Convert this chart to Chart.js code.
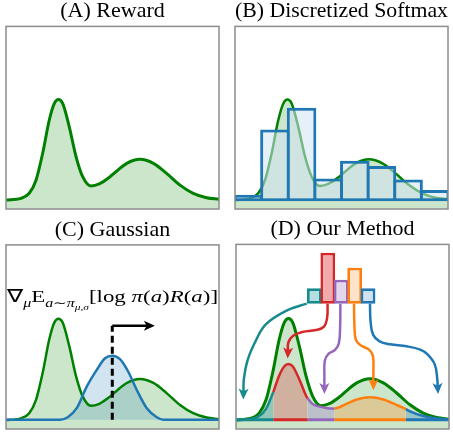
<!DOCTYPE html>
<html>
<head>
<meta charset="utf-8">
<script src="https://cdn.jsdelivr.net/npm/chart.js@4.4.1/dist/chart.umd.min.js"></script>
<style>
  html, body { margin: 0; padding: 0; background: #fff; }
  #wrap { position: relative; width: 453px; height: 434px; }
  canvas { position: absolute; }
</style>
</head>
<body>
<div id="wrap">
  <canvas id="cA" width="226" height="217" style="left:0;top:0"></canvas>
  <canvas id="cB" width="227" height="217" style="left:226px;top:0"></canvas>
  <canvas id="cC" width="226" height="217" style="left:0;top:217px"></canvas>
  <canvas id="cD" width="227" height="217" style="left:226px;top:217px"></canvas>
</div>
<script>
// ====== DATA (x and y are 0..100 of each panel's frame) ======
const rewardX = [0, 7.0, 10.9, 14.1, 17.2, 20.3, 22.7, 24.6, 26.6, 29.7, 32.9, 36.0, 39.9, 43.8, 48.5, 51.6, 56.7, 62.9, 69.2, 75.4, 81.7, 87.9, 94.2, 100];
const rewardY = [4.9, 5.8, 8.6, 15.8, 30.4, 48.6, 57.8, 59.9, 57.8, 45.0, 28.6, 17.7, 12.6, 13.7, 17.3, 20.4, 25.0, 27.2, 25.0, 19.5, 13.1, 8.6, 6.2, 5.3];

// (B) discretized softmax bins
const binCenters = [6.25, 18.75, 31.25, 43.75, 56.25, 68.75, 81.25, 93.75];
const binTops = [7.8, 43.6, 55.5, 16.7, 26.4, 23.6, 16.2, 10.4];
const binBase = 4.2;

// (C) gaussian policy
const gaussX = [0, 25.4, 29.0, 33.2, 37.9, 42.6, 46.5, 49.9, 53.5, 57.4, 61.4, 66.1, 70.8, 73.9, 100];
const gaussY = [5.0, 5.0, 6.4, 11.3, 23.0, 32.1, 38.4, 39.8, 37.9, 31.1, 21.2, 11.3, 6.4, 5.0, 5.0];
const gaussMean = 49.9;
const gradArrow = [[49.9, 56.1], [66.8, 56.1]];
const gradLabel = '∇μ E a∼π μ,σ [log π(a) R(a)]';

// (D) our method: bins at top, colored segments and component curves
const methodCenters = [36.8, 43.1, 49.4, 55.7, 62.0];
const methodTops = [76.2, 95.5, 80.9, 87.4, 76.2];
const methodBase = 67.8;
const segEdges = [0, 17.5, 33.6, 46.2, 79.7, 100];
const tealX = [0, 7.0, 10.9, 14.1, 17.5];
const tealY = [5.0, 5.4, 7.0, 10.9, 19.9];
const redX = [17.5, 20.3, 22.7, 24.6, 26.6, 29.7, 32.9, 33.6];
const redY = [19.9, 29.0, 34.0, 35.2, 34.0, 27.0, 18.0, 16.6];
const purpleX = [33.6, 36.0, 39.9, 43.0, 46.2];
const purpleY = [16.6, 13.5, 12.0, 11.3, 11.0];
const orangeX = [46.2, 48.5, 51.6, 56.7, 62.9, 69.2, 75.4, 79.7];
const orangeY = [11.0, 11.8, 13.5, 16.0, 17.2, 16.0, 13.0, 10.8];
const blueX = [79.7, 81.7, 87.9, 94.2, 100];
const blueY = [10.8, 9.5, 7.0, 5.7, 5.2];
const arrowTeal = [[33.2, 67.9], [23.5, 64.0], [14.1, 56.8], [9.4, 48.1], [5.5, 37.5], [3.7, 27.0], [3.5, 19.5]];
const arrowRed = [[43.0, 67.9], [42.8, 60.5], [41.3, 55.5], [37.5, 53.6], [31.3, 52.6], [27.0, 50.6], [24.6, 47.0], [24.4, 41.8]];
const arrowPurple = [[49.0, 67.9], [48.9, 56.0], [48.3, 46.5], [46.5, 42.8], [43.5, 40.8], [41.7, 37.0], [41.5, 28.0], [41.5, 22.5]];
const arrowOrange = [[55.4, 67.9], [55.6, 56.0], [56.3, 48.3], [58.7, 45.2], [62.5, 43.0], [64.3, 39.5], [64.5, 30.0], [64.5, 24.5]];
const arrowBlue = [[62.9, 67.9], [63.2, 58.0], [64.4, 51.0], [67.4, 47.5], [72.3, 45.9], [80.1, 44.8], [86.5, 43.0], [89.8, 40.5], [93.3, 35.0], [94.5, 27.0], [94.7, 22.5]];

// ====== STYLE ======
const SERIF = "'Liberation Serif', 'Times New Roman', serif";
const GREEN = '#008000', GREEN_FILL = 'rgba(0,128,0,0.2)';
const BLUE = '#1f77b4', RED = '#d62728', PURPLE = '#9467bd', ORANGE = '#ff7f0e', TEAL = '#168a8d';

// ====== HELPERS ======
const pts = (xs, ys) => xs.map((x, i) => ({ x, y: ys[i] }));
const pairs = arr => arr.map(([x, y]) => ({ x, y }));

const framePlugin = {
  id: 'frame',
  afterDraw(chart) {
    const { ctx, chartArea: a } = chart;
    ctx.save();
    ctx.strokeStyle = '#8c8c8c';
    ctx.lineWidth = 1.5;
    ctx.strokeRect(a.left, a.top, a.right - a.left, a.bottom - a.top);
    ctx.restore();
  }
};

const arrowPlugin = {
  id: 'arrowHeads',
  afterDatasetsDraw(chart) {
    const ctx = chart.ctx;
    chart.data.datasets.forEach((ds, i) => {
      if (!ds.arrowHead) return;
      const p = chart.getDatasetMeta(i).data;
      const a = p[p.length - 2], b = p[p.length - 1];
      const ang = Math.atan2(b.y - a.y, b.x - a.x);
      const L = ds.arrowHead.len, W = ds.arrowHead.width;
      ctx.save();
      ctx.translate(b.x, b.y);
      ctx.rotate(ang);
      ctx.beginPath();
      ctx.moveTo(L * 0.6, 0);
      ctx.lineTo(-L * 0.4, -W / 2);
      ctx.lineTo(-L * 0.15, 0);
      ctx.lineTo(-L * 0.4, W / 2);
      ctx.closePath();
      ctx.fillStyle = ds.borderColor;
      ctx.fill();
      ctx.restore();
    });
  }
};

// draws the gradient formula as runs of text (sub/superscripts)
const mathPlugin = {
  id: 'mathLabel',
  afterDatasetsDraw(chart, args, opts) {
    if (!opts.runs) return;
    const { ctx, scales: { x, y } } = chart;
    const font = r => `${r.italic ? 'italic ' : ''}${(opts.size * (r.scale || 1)).toFixed(2)}px ${SERIF}`;
    ctx.save();
    let total = 0;
    opts.runs.forEach(r => { ctx.font = font(r); total += ctx.measureText(r.text).width; });
    const sx = opts.width / total;
    ctx.translate(x.getPixelForValue(opts.x) - opts.width / 2, y.getPixelForValue(opts.y));
    ctx.scale(sx, 1);
    ctx.fillStyle = '#000';
    ctx.textBaseline = 'alphabetic';
    let cx = 0;
    opts.runs.forEach(r => {
      ctx.font = font(r);
      ctx.fillText(r.text, cx, (r.dy || 0) * opts.size);
      cx += ctx.measureText(r.text).width;
    });
    ctx.restore();
  }
};

Chart.register(framePlugin, arrowPlugin, mathPlugin);

function baseOptions(title, pad) {
  return {
    responsive: false,
    animation: false,
    events: [],
    layout: { padding: pad },
    elements: { point: { radius: 0 }, line: { borderWidth: 2.5 } },
    scales: {
      x: { type: 'linear', min: 0, max: 100, display: false, offset: false, ticks: { stepSize: 100 } },
      y: { type: 'linear', min: 0, max: 100, display: false, ticks: { stepSize: 100 } }
    },
    plugins: {
      legend: { display: false },
      tooltip: { enabled: false },
      filler: { drawTime: 'beforeDatasetsDraw' },
      title: {
        display: true, text: title, color: '#000',
        font: { family: SERIF, size: 22, weight: 'normal', lineHeight: 1.2 },
        padding: { top: -1.5, bottom: 1.5 }
      }
    }
  };
}

function rewardDataset(width, order) {
  return {
    type: 'line', data: pts(rewardX, rewardY), borderColor: GREEN, backgroundColor: GREEN_FILL,
    fill: 'origin', borderWidth: width, cubicInterpolationMode: 'monotone', order
  };
}

function curveDataset(xs, ys, color, fillColor, order) {
  return {
    type: 'line', data: pts(xs, ys), borderColor: color, backgroundColor: fillColor,
    fill: { value: 5 }, borderWidth: 2.5, cubicInterpolationMode: 'monotone', order
  };
}

function arrowDataset(path, color, order) {
  return {
    type: 'line', data: pairs(path), borderColor: color, borderWidth: 2.5,
    tension: 0.4, fill: false, arrowHead: { len: 11, width: 10 }, order
  };
}

// ====== (A) REWARD ======
new Chart(document.getElementById('cA'), {
  type: 'line',
  data: { datasets: [rewardDataset(3, 1)] },
  options: baseOptions('(A) Reward', { left: 6, right: 7, top: 0, bottom: 8 })
});

// ====== (B) DISCRETIZED SOFTMAX ======
new Chart(document.getElementById('cB'), {
  type: 'line',
  data: {
    datasets: [
      {
        type: 'bar', order: 0,
        data: binCenters.map((x, i) => ({ x, y: [binBase, binTops[i]] })),
        backgroundColor: 'rgba(210,228,243,0.55)', borderColor: BLUE, borderWidth: 3,
        borderSkipped: false, barPercentage: 1.11, categoryPercentage: 1
      },
      rewardDataset(2.5, 1)
    ]
  },
  options: baseOptions('(B) Discretized Softmax', { left: 9, right: 5, top: 0, bottom: 8 })
});

// ====== (C) GAUSSIAN ======
const optC = baseOptions('(C) Gaussian', { left: 6, right: 7, top: 1.5, bottom: 5 });
optC.plugins.mathLabel = {
  x: 50, y: 69, size: 17, width: 211,
  runs: [
    { text: '∇', scale: 1.05 },
    { text: 'μ', scale: 0.7, italic: true, dy: 0.28 },
    { text: 'E' },
    { text: 'a', scale: 0.7, italic: true, dy: 0.28 },
    { text: '∼', scale: 0.7, dy: 0.28 },
    { text: 'π', scale: 0.7, italic: true, dy: 0.28 },
    { text: 'μ,σ', scale: 0.5, italic: true, dy: 0.45 },
    { text: '[log ' },
    { text: 'π', italic: true },
    { text: '(' },
    { text: 'a', italic: true },
    { text: ')' },
    { text: 'R', italic: true },
    { text: '(' },
    { text: 'a', italic: true },
    { text: ')]' }
  ]
};
new Chart(document.getElementById('cC'), {
  type: 'line',
  data: {
    datasets: [
      arrowDataset(gradArrow, '#000', 0),
      {
        type: 'line', order: 1, data: [{ x: gaussMean, y: 5 }, { x: gaussMean, y: gradArrow[0][1] }],
        borderColor: '#000', borderWidth: 3, borderDash: [7, 4], fill: false
      },
      curveDataset(gaussX, gaussY, BLUE, 'rgba(31,119,180,0.2)', 2),
      rewardDataset(2.5, 3)
    ]
  },
  options: optC
});

// ====== (D) OUR METHOD ======
const segColors = [TEAL, RED, PURPLE, ORANGE, BLUE];
const baselines = segColors.map((c, i) => ({
  type: 'line', order: 2, data: [{ x: segEdges[i], y: 5 }, { x: segEdges[i + 1], y: 5 }],
  borderColor: c, borderWidth: 3, fill: false
}));
new Chart(document.getElementById('cD'), {
  type: 'line',
  data: {
    datasets: [
      arrowDataset(arrowTeal, TEAL, 0),
      arrowDataset(arrowRed, RED, 0),
      arrowDataset(arrowPurple, PURPLE, 0),
      arrowDataset(arrowOrange, ORANGE, 0),
      arrowDataset(arrowBlue, BLUE, 0),
      {
        type: 'bar', order: 1,
        data: methodCenters.map((x, i) => ({ x, y: [methodBase, methodTops[i]] })),
        backgroundColor: ['#b3dfe0', '#f0aaac', '#e2d7eb', '#ffe4cb', '#d0e2f1'],
        borderColor: segColors, borderWidth: 2.8,
        borderSkipped: false, barPercentage: 1.1, categoryPercentage: 1
      },
      ...baselines,
      curveDataset(tealX, tealY, TEAL, 'rgba(0,128,128,0.3)', 3),
      curveDataset(redX, redY, RED, 'rgba(214,39,40,0.28)', 3),
      curveDataset(purpleX, purpleY, PURPLE, 'rgba(148,103,189,0.3)', 3),
      curveDataset(orangeX, orangeY, ORANGE, 'rgba(255,127,14,0.28)', 3),
      curveDataset(blueX, blueY, BLUE, 'rgba(31,119,180,0.3)', 3),
      rewardDataset(3, 4)
    ]
  },
  options: baseOptions('(D) Our Method', { left: 10, right: 4, top: 1, bottom: 5 })
});
</script>
</body>
</html>
